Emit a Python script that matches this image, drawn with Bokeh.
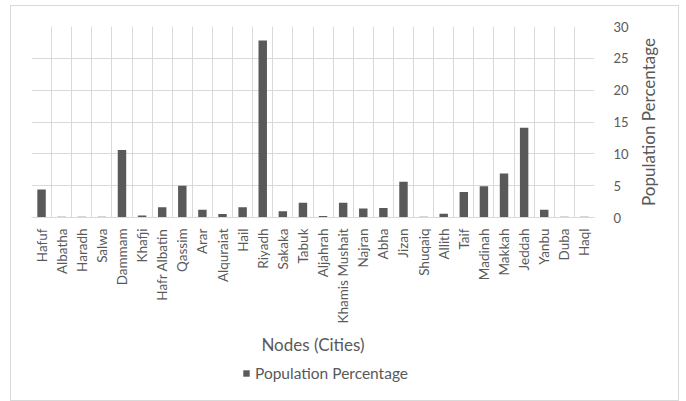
from bokeh.plotting import figure
from bokeh.layouts import column, row
from bokeh.models import ColumnDataSource, FixedTicker, Grid, Legend, LegendItem, Range1d
from bokeh.embed import file_html
from bokeh.resources import INLINE
import math

cities = ["Hafuf", "Albatha", "Haradh", "Salwa", "Dammam", "Khafji", "Hafr Albatin",
          "Qassim", "Arar", "Alquraiat", "Hail", "Riyadh", "Sakaka", "Tabuk",
          "Aljahrah", "Khamis Mushait", "Najran", "Abha", "Jizan", "Shuqaiq",
          "Allith", "Taif", "Madinah", "Makkah", "Jeddah", "Yanbu", "Duba", "Haql"]
population_pct = [4.4, 0.1, 0.1, 0.1, 10.6, 0.3, 1.6, 5.0, 1.2, 0.55, 1.6, 27.8, 1.0, 2.3,
                  0.25, 2.3, 1.4, 1.5, 5.6, 0.1, 0.6, 4.0, 4.9, 6.9, 14.1, 1.2, 0.1, 0.1]
y_ticks = [0, 5, 10, 15, 20, 25, 30]
series_name = "Population Percentage"
y_title = "Population Percentage"
x_title = "Nodes (Cities)"

FONT = "Lato"
TXT = "#595959"
GRID = "#d9d9d9"
BAR = "#595959"

n = len(cities)
xs = [i + 0.5 for i in range(n)]
src = ColumnDataSource(dict(x=xs, top=population_pct, city=cities))

# main chart
p = figure(width=620, height=352, output_backend="svg", toolbar_location=None,
           x_range=Range1d(0, n), y_range=Range1d(0, 30), y_axis_location="right",
           min_border_left=20, min_border_top=20, min_border_right=35, min_border_bottom=139)
p.outline_line_color = None
p.background_fill_color = "white"
p.border_fill_color = "white"

r = p.vbar(x="x", top="top", width=0.42, bottom=0, source=src, fill_color=BAR, line_color=None)

p.xgrid.visible = False
p.ygrid.ticker = FixedTicker(ticks=y_ticks)
p.ygrid.grid_line_color = GRID
vgrid = Grid(dimension=0, ticker=FixedTicker(ticks=list(range(n + 1))), grid_line_color=GRID)
p.add_layout(vgrid)

xa = p.xaxis[0]
xa.ticker = FixedTicker(ticks=xs)
xa.major_label_overrides = {x: c for x, c in zip(xs, cities)}
xa.major_label_orientation = math.pi / 2
xa.major_tick_line_color = None
xa.minor_tick_line_color = None
xa.axis_line_color = GRID
xa.major_label_text_font = FONT
xa.major_label_text_font_size = "13.5px"
xa.major_label_text_color = TXT
xa.major_label_standoff = 5
xa.axis_label = x_title
xa.axis_label_text_font = FONT
xa.axis_label_text_font_style = "normal"
xa.axis_label_text_font_size = "17px"
xa.axis_label_text_color = TXT
xa.axis_label_standoff = 8

ya = p.yaxis[0]
ya.ticker = FixedTicker(ticks=y_ticks)
ya.major_tick_line_color = None
ya.minor_tick_line_color = None
ya.axis_line_color = None
ya.major_label_text_font = FONT
ya.major_label_text_font_size = "13px"
ya.major_label_text_color = TXT
ya.major_label_standoff = 13

# narrow strip on the right that carries the value-axis title (reads bottom-to-top)
pl = figure(width=47, height=352, output_backend="svg", toolbar_location=None,
            x_range=Range1d(0, 1), y_range=Range1d(0, 30), x_axis_type=None,
            min_border_left=27, min_border_top=20, min_border_right=0, min_border_bottom=139)
pl.outline_line_color = None
pl.xgrid.visible = False
pl.ygrid.visible = False
pl.background_fill_color = "white"
pl.border_fill_color = "white"
la = pl.yaxis[0]
la.ticker = FixedTicker(ticks=[])
la.major_tick_line_color = None
la.minor_tick_line_color = None
la.axis_line_color = None
la.major_label_standoff = 0
la.major_tick_out = 0
la.axis_label = y_title
la.axis_label_text_font = FONT
la.axis_label_text_font_style = "normal"
la.axis_label_text_font_size = "17px"
la.axis_label_text_color = TXT
la.axis_label_standoff = 0

# legend strip below the chart (same series, shown only as legend key)
p2 = figure(width=667, height=42, output_backend="svg", toolbar_location=None,
            x_range=Range1d(0, n), y_range=Range1d(100, 101),
            x_axis_type=None, y_axis_type=None,
            min_border_left=0, min_border_right=0, min_border_top=0, min_border_bottom=0)
p2.outline_line_color = None
p2.xgrid.visible = False
p2.ygrid.visible = False
p2.background_fill_color = "white"
p2.border_fill_color = "white"
r2 = p2.vbar(x="x", top="top", width=0.42, bottom=0, source=src, fill_color=BAR, line_color=None)

legend = Legend(items=[LegendItem(label=series_name, renderers=[r2])],
                location=(231, 18), orientation="horizontal",
                label_text_font=FONT, label_text_font_size="15.5px", label_text_color=TXT,
                glyph_width=8, glyph_height=8, border_line_color=None,
                background_fill_alpha=0, margin=0, padding=2, label_standoff=5)
p2.add_layout(legend)

layout = column(row(p, pl, spacing=0), p2, spacing=0,
                styles={"border": "1px solid #d9d9d9", "margin-left": "10px", "margin-top": "5px"})

open("out.html", "w").write(file_html(layout, INLINE))
